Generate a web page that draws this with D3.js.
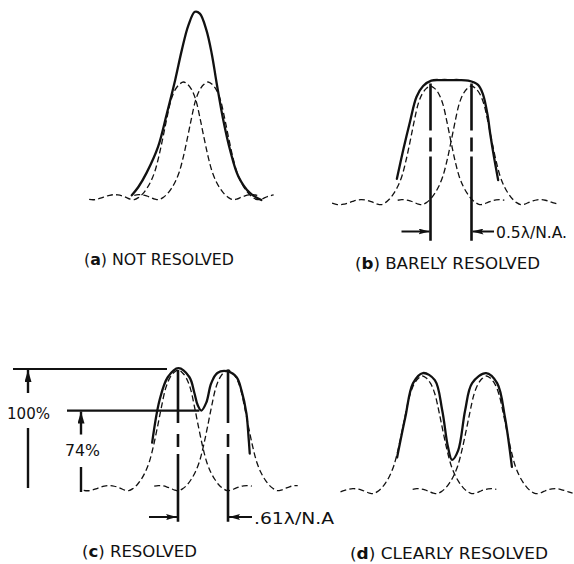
<!DOCTYPE html>
<html>
<head>
<meta charset="utf-8">
<script src="https://cdn.jsdelivr.net/npm/d3@7"></script>
<style>
  body { margin: 0; background: #fff; }
  svg { display: block; }
  .lbl { font-family: "DejaVu Sans Condensed", "Liberation Sans Narrow", "DejaVu Sans", sans-serif; fill: #111; }
</style>
</head>
<body>
<div class="fig"></div>
<script>
// single airy-like profile, offset in lambda/N.A. -> relative intensity
var profileU = [0.00, 0.05, 0.10, 0.15, 0.20, 0.25, 0.30, 0.35, 0.40, 0.45, 0.50, 0.55, 0.60,
                0.65, 0.70, 0.75, 0.80, 0.85, 0.90, 0.95, 1.00, 1.05, 1.10, 1.15, 1.20, 1.25];
var profileI = [1.000, 0.980, 0.935, 0.850, 0.700, 0.530, 0.370, 0.240, 0.155, 0.095, 0.050, 0.020, 0.003,
                0.008, 0.022, 0.035, 0.043, 0.045, 0.040, 0.030, 0.018, 0.008, 0.002, 0.006, 0.015, 0.025];

var panelIds   = ["a", "b", "c", "d"];
var panelNames = ["NOT RESOLVED", "BARELY RESOLVED", "RESOLVED", "CLEARLY RESOLVED"];
var peakSep    = [0.30, 0.50, 0.61, 0.78];          // lambda/N.A.
var sepLabels  = [null, "0.5\u03bb/N.A.", ".61\u03bb/N.A", null];
var levelLabels = ["100%", "74%"];

// combined (solid) curves, [offset from centre, intensity]
var solidA = [[-0.78,0.04],[-0.70,0.11],[-0.60,0.23],[-0.46,0.45],[-0.35,0.74],[-0.25,1.02],[-0.17,1.27],
              [-0.09,1.48],[-0.01,1.595],[0.05,1.58],[0.13,1.44],[0.195,1.24],[0.255,0.99],[0.335,0.68],
              [0.42,0.42],[0.52,0.20],[0.66,0.06],[0.80,0.0]];
var solidB = [[-0.66,0.22],[-0.58,0.47],[-0.50,0.70],[-0.42,0.91],[-0.34,1.0],[-0.24,1.045],[-0.12,1.05],
              [0.0,1.05],[0.10,1.05],[0.21,1.045],[0.33,1.01],[0.39,0.93],[0.445,0.76],[0.48,0.59],
              [0.525,0.40],[0.575,0.21]];
var solidC = [[-0.62,0.40],[-0.53,0.75],[-0.43,0.94],[-0.30,1.015],[-0.165,0.94],[-0.105,0.81],[-0.065,0.71],
              [-0.02,0.665],[0.04,0.73],[0.10,0.89],[0.175,0.975],[0.29,0.99],[0.41,0.94],[0.47,0.83],
              [0.53,0.64],[0.555,0.45],[0.57,0.31]];
var solidD = [[-0.70,0.31],[-0.60,0.65],[-0.505,0.94],[-0.385,1.025],[-0.24,0.965],[-0.15,0.71],[-0.08,0.40],
              [-0.03,0.29],[0.045,0.37],[0.13,0.71],[0.215,0.94],[0.385,1.025],[0.52,0.94],[0.615,0.65],
              [0.70,0.23]];
var solids = [solidA, solidB, solidC, solidD];

// layout of the four panels
var geo = [
  {cx: 195.75, base: 200, h: 118, xmin: -1.31, xmax: 0.99, lx: 84,  ly: 265, lw: 150},
  {cx: 451,    base: 205, h: 119, xmin: -1.45, xmax: 1.30, lx: 355, ly: 269, lw: 185},
  {cx: 203,    base: 491, h: 121, xmin: -1.48, xmax: 1.18, lx: 82,  ly: 557, lw: 115},
  {cx: 454.5,  base: 494, h: 118, xmin: -1.42, xmax: 1.45, lx: 350, ly: 559, lw: 198}
];
var pxPerUnit = 82;

var svg = d3.select(".fig").append("svg")
            .attr("width", 574)
            .attr("height", 564);

svg.append("rect").attr("width", 574).attr("height", 564).attr("fill", "#fff");

var defs = svg.append("defs");
defs.append("marker")
    .attr("id", "head")
    .attr("markerUnits", "userSpaceOnUse")
    .attr("viewBox", "0 0 11 6")
    .attr("markerWidth", 11).attr("markerHeight", 6)
    .attr("refX", 11).attr("refY", 3)
    .attr("orient", "auto")
    .append("path").attr("d", "M0,0 L11,3 L0,6 L2,3 Z").attr("fill", "#111");
defs.append("marker")
    .attr("id", "headUp")
    .attr("markerUnits", "userSpaceOnUse")
    .attr("viewBox", "0 0 12 7")
    .attr("markerWidth", 12).attr("markerHeight", 7)
    .attr("refX", 12).attr("refY", 3.5)
    .attr("orient", "auto")
    .append("path").attr("d", "M0,0 L12,3.5 L0,7 Z").attr("fill", "#111");

var profile = [];
for (var k = profileU.length - 1; k > 0; k--) profile.push([-profileU[k], profileI[k]]);
for (var k = 0; k < profileU.length; k++) profile.push([profileU[k], profileI[k]]);

function draw_panel(i) {
  var g = geo[i];
  var x = d3.scaleLinear().domain([0, 1]).range([g.cx, g.cx + pxPerUnit]);
  var y = d3.scaleLinear().domain([0, 1]).range([g.base, g.base - g.h]);
  var line = d3.line()
               .x(function(d) { return x(d[0]); })
               .y(function(d) { return y(d[1]); })
               .curve(d3.curveCatmullRom.alpha(0.5));

  var pL = -peakSep[i] / 2, pR = peakSep[i] / 2;
  var left = profile.map(function(d) { return [d[0] + pL, d[1]]; })
                    .filter(function(d) { return d[0] >= g.xmin - 1e-6 && d[0] <= pL + 0.9 + 1e-6; });
  var right = profile.map(function(d) { return [d[0] + pR, d[1]]; })
                     .filter(function(d) { return d[0] >= pR - 0.9 - 1e-6 && d[0] <= g.xmax + 1e-6; });

  svg.selectAll(".dash" + i)
     .data([left, right])
     .enter().append("path")
     .attr("class", "dash" + i)
     .attr("d", line)
     .attr("fill", "none")
     .attr("stroke", "#111")
     .attr("stroke-width", 1.3)
     .attr("stroke-dasharray", "6,3.2");

  svg.append("path")
     .datum(solids[i])
     .attr("d", line)
     .attr("fill", "none")
     .attr("stroke", "#111")
     .attr("stroke-width", 2.3)
     .attr("stroke-linecap", "round");

  // panel caption
  var t = svg.append("text").attr("class", "lbl")
             .attr("x", g.lx).attr("y", g.ly)
             .attr("font-size", 16)
             .attr("textLength", g.lw).attr("lengthAdjust", "spacingAndGlyphs");
  t.append("tspan").text("(");
  t.append("tspan").attr("font-weight", "bold").text(panelIds[i]);
  t.append("tspan").text(") " + panelNames[i]);

  return {x: x, y: y, pL: pL, pR: pR};
}

var sc = [];
for (var i = 0; i < 4; i++) sc.push(draw_panel(i));

// separation markers for (b) and (c)
function draw_sep(i, top, bottom, arrowY, pattern, tx, tw) {
  var s = sc[i];
  var x0 = s.x(s.pL), x1 = s.x(s.pR);
  var yTop = s.y(top), yBot = s.y(bottom);
  svg.selectAll(".vl" + i)
     .data([x0, x1])
     .enter().append("line")
     .attr("class", "vl" + i)
     .attr("x1", function(d) { return d; }).attr("x2", function(d) { return d; })
     .attr("y1", yTop).attr("y2", yBot)
     .attr("stroke", "#111").attr("stroke-width", 2.6)
     .attr("stroke-dasharray", pattern);
  svg.append("line")
     .attr("x1", x0 - 29).attr("x2", x0 - 1).attr("y1", arrowY).attr("y2", arrowY)
     .attr("stroke", "#111").attr("stroke-width", 2)
     .attr("marker-end", "url(#head)");
  svg.append("line")
     .attr("x1", tx - 2).attr("x2", x1 + 1).attr("y1", arrowY).attr("y2", arrowY)
     .attr("stroke", "#111").attr("stroke-width", 2)
     .attr("marker-end", "url(#head)");
  svg.append("text").attr("class", "lbl")
     .attr("x", tx).attr("y", arrowY + 6.5)
     .attr("font-size", 15.5)
     .attr("textLength", tw).attr("lengthAdjust", "spacingAndGlyphs")
     .text(sepLabels[i]);
}
draw_sep(1, 1.02, -0.30, 231.5, "47,7,14,5,300", 496, 71);
draw_sep(2, 1.0, -0.255, 517, "53,11,13,7,300", 254, 80);

// height markers for (c): top of peak and the central dip of the solid curve
var c = sc[2];
var dip = solidC.filter(function(d) { return Math.abs(d[0]) < 0.2; });
var dipPt = dip.reduce(function(a, b) { return b[1] < a[1] ? b : a; });
var topY = c.y(1.0) - 1;
var dipY = c.y(dipPt[1]);
var hl = [
  {x1: 13, x2: c.x(c.pL) - 11, y: topY},
  {x1: 67, x2: c.x(dipPt[0]) - 2, y: dipY}
];
svg.selectAll(".hl")
   .data(hl).enter().append("line")
   .attr("class", "hl")
   .attr("x1", function(d) { return d.x1; }).attr("x2", function(d) { return d.x2; })
   .attr("y1", function(d) { return d.y; }).attr("y2", function(d) { return d.y; })
   .attr("stroke", "#111").attr("stroke-width", 2.2);

var lev = [
  {ax: 28, textX: 7,  tw: 43, ytext: 419, lineTop: 428, lineBot: c.y(0) - 3, y: topY},
  {ax: 81, textX: 65, tw: 35, ytext: 456, lineTop: 467, lineBot: c.y(0) + 1, y: dipY}
];
lev.forEach(function(d, j) {
  svg.append("line")
     .attr("x1", d.ax).attr("x2", d.ax)
     .attr("y1", d.y + 24).attr("y2", d.y + 1)
     .attr("stroke", "#111").attr("stroke-width", 2.4)
     .attr("marker-end", "url(#headUp)");
  svg.append("line")
     .attr("x1", d.ax).attr("x2", d.ax)
     .attr("y1", d.lineTop).attr("y2", d.lineBot)
     .attr("stroke", "#111").attr("stroke-width", 2.4);
  svg.append("text").attr("class", "lbl")
     .attr("x", d.textX).attr("y", d.ytext)
     .attr("font-size", 16)
     .attr("textLength", d.tw).attr("lengthAdjust", "spacingAndGlyphs")
     .text(levelLabels[j]);
});
</script>
</body>
</html>
